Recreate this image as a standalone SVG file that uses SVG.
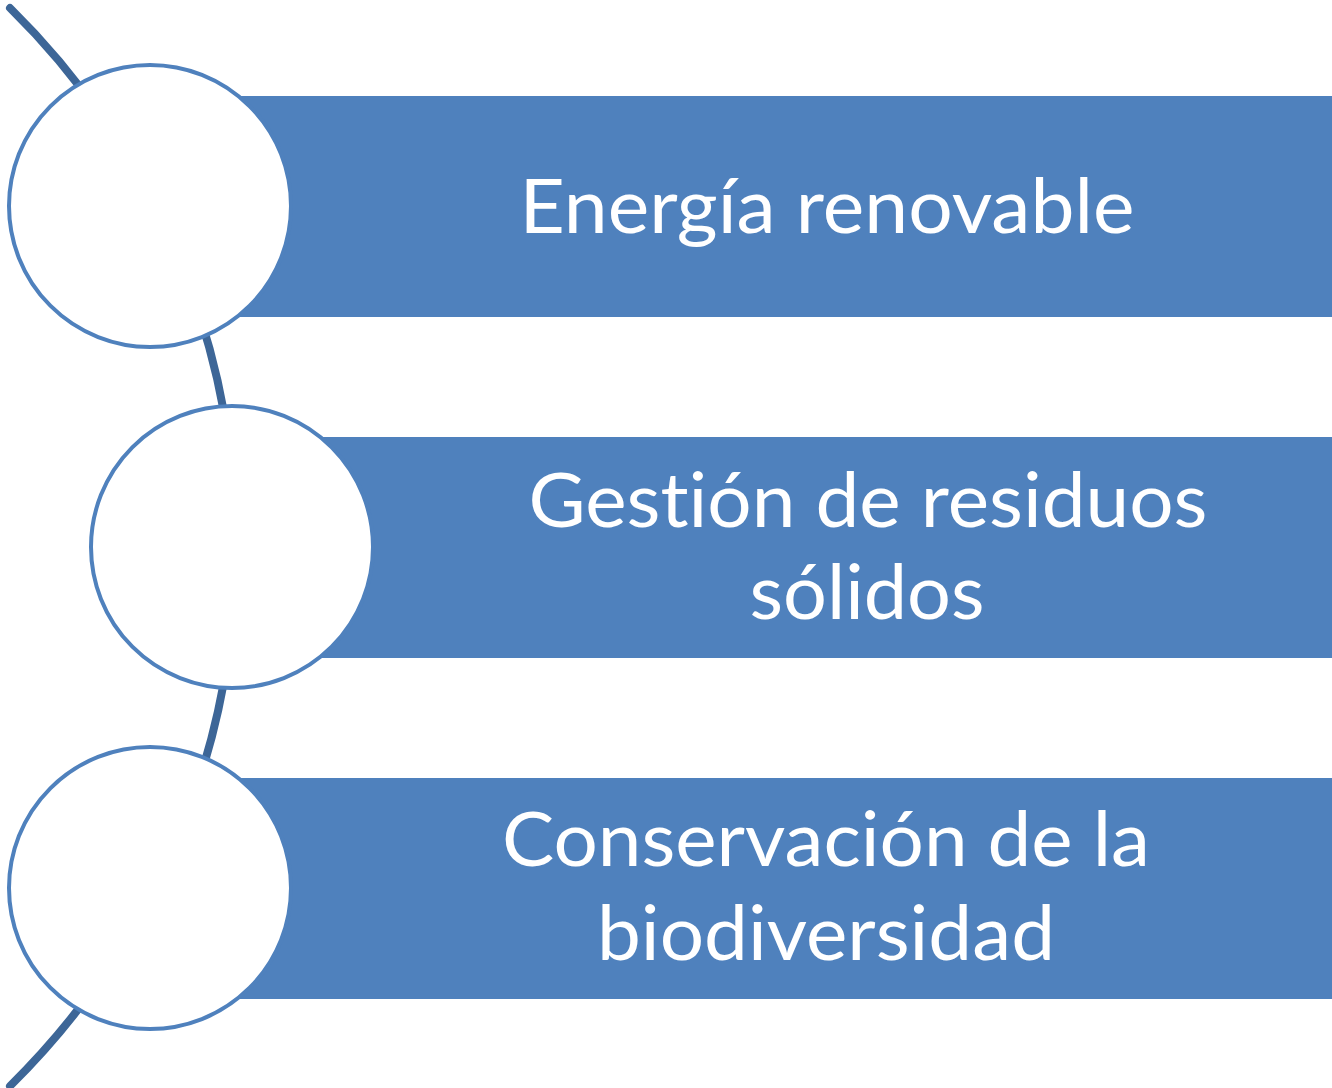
<svg xmlns="http://www.w3.org/2000/svg" width="1332" height="1088" viewBox="0 0 1332 1088">
<style>
.bar{fill:#4F81BD}
.node{fill:#FFFFFF;stroke:#4F81BD;stroke-width:4}
.arc{fill:none;stroke:#3D6697;stroke-width:8;stroke-linecap:round}
.t{fill:#FFFFFF;font-family:Lato,"Open Sans","Liberation Sans",sans-serif;font-size:75px;text-anchor:middle;font-variant-ligatures:none;font-feature-settings:"liga" 0,"clig" 0,"dlig" 0}
</style>
<rect width="1332" height="1088" fill="#FFFFFF"/>
<g id="connectors">
<path class="arc" d="M 10 8 A 756 756 0 0 1 10 1086"/>
</g>
<g id="item1">
<rect class="bar" x="150" y="96" width="1182" height="221"/>
<circle class="node" cx="150" cy="206" r="141"/>
<text class="t" x="827" y="233" textLength="615" lengthAdjust="spacingAndGlyphs">Energía renovable</text>
</g>
<g id="item2">
<rect class="bar" x="232" y="437" width="1100" height="221"/>
<circle class="node" cx="232" cy="547" r="141"/>
<text class="t" x="868" y="527" textLength="679" lengthAdjust="spacingAndGlyphs">Gestión de residuos</text>
<text class="t" x="867" y="619" textLength="235" lengthAdjust="spacingAndGlyphs">sólidos</text>
</g>
<g id="item3">
<rect class="bar" x="150" y="778" width="1182" height="221"/>
<circle class="node" cx="150" cy="888" r="141"/>
<text class="t" x="826" y="866" textLength="648" lengthAdjust="spacingAndGlyphs">Conservación de la</text>
<text class="t" x="826" y="960" textLength="458" lengthAdjust="spacingAndGlyphs">biodiversidad</text>
</g>
</svg>
